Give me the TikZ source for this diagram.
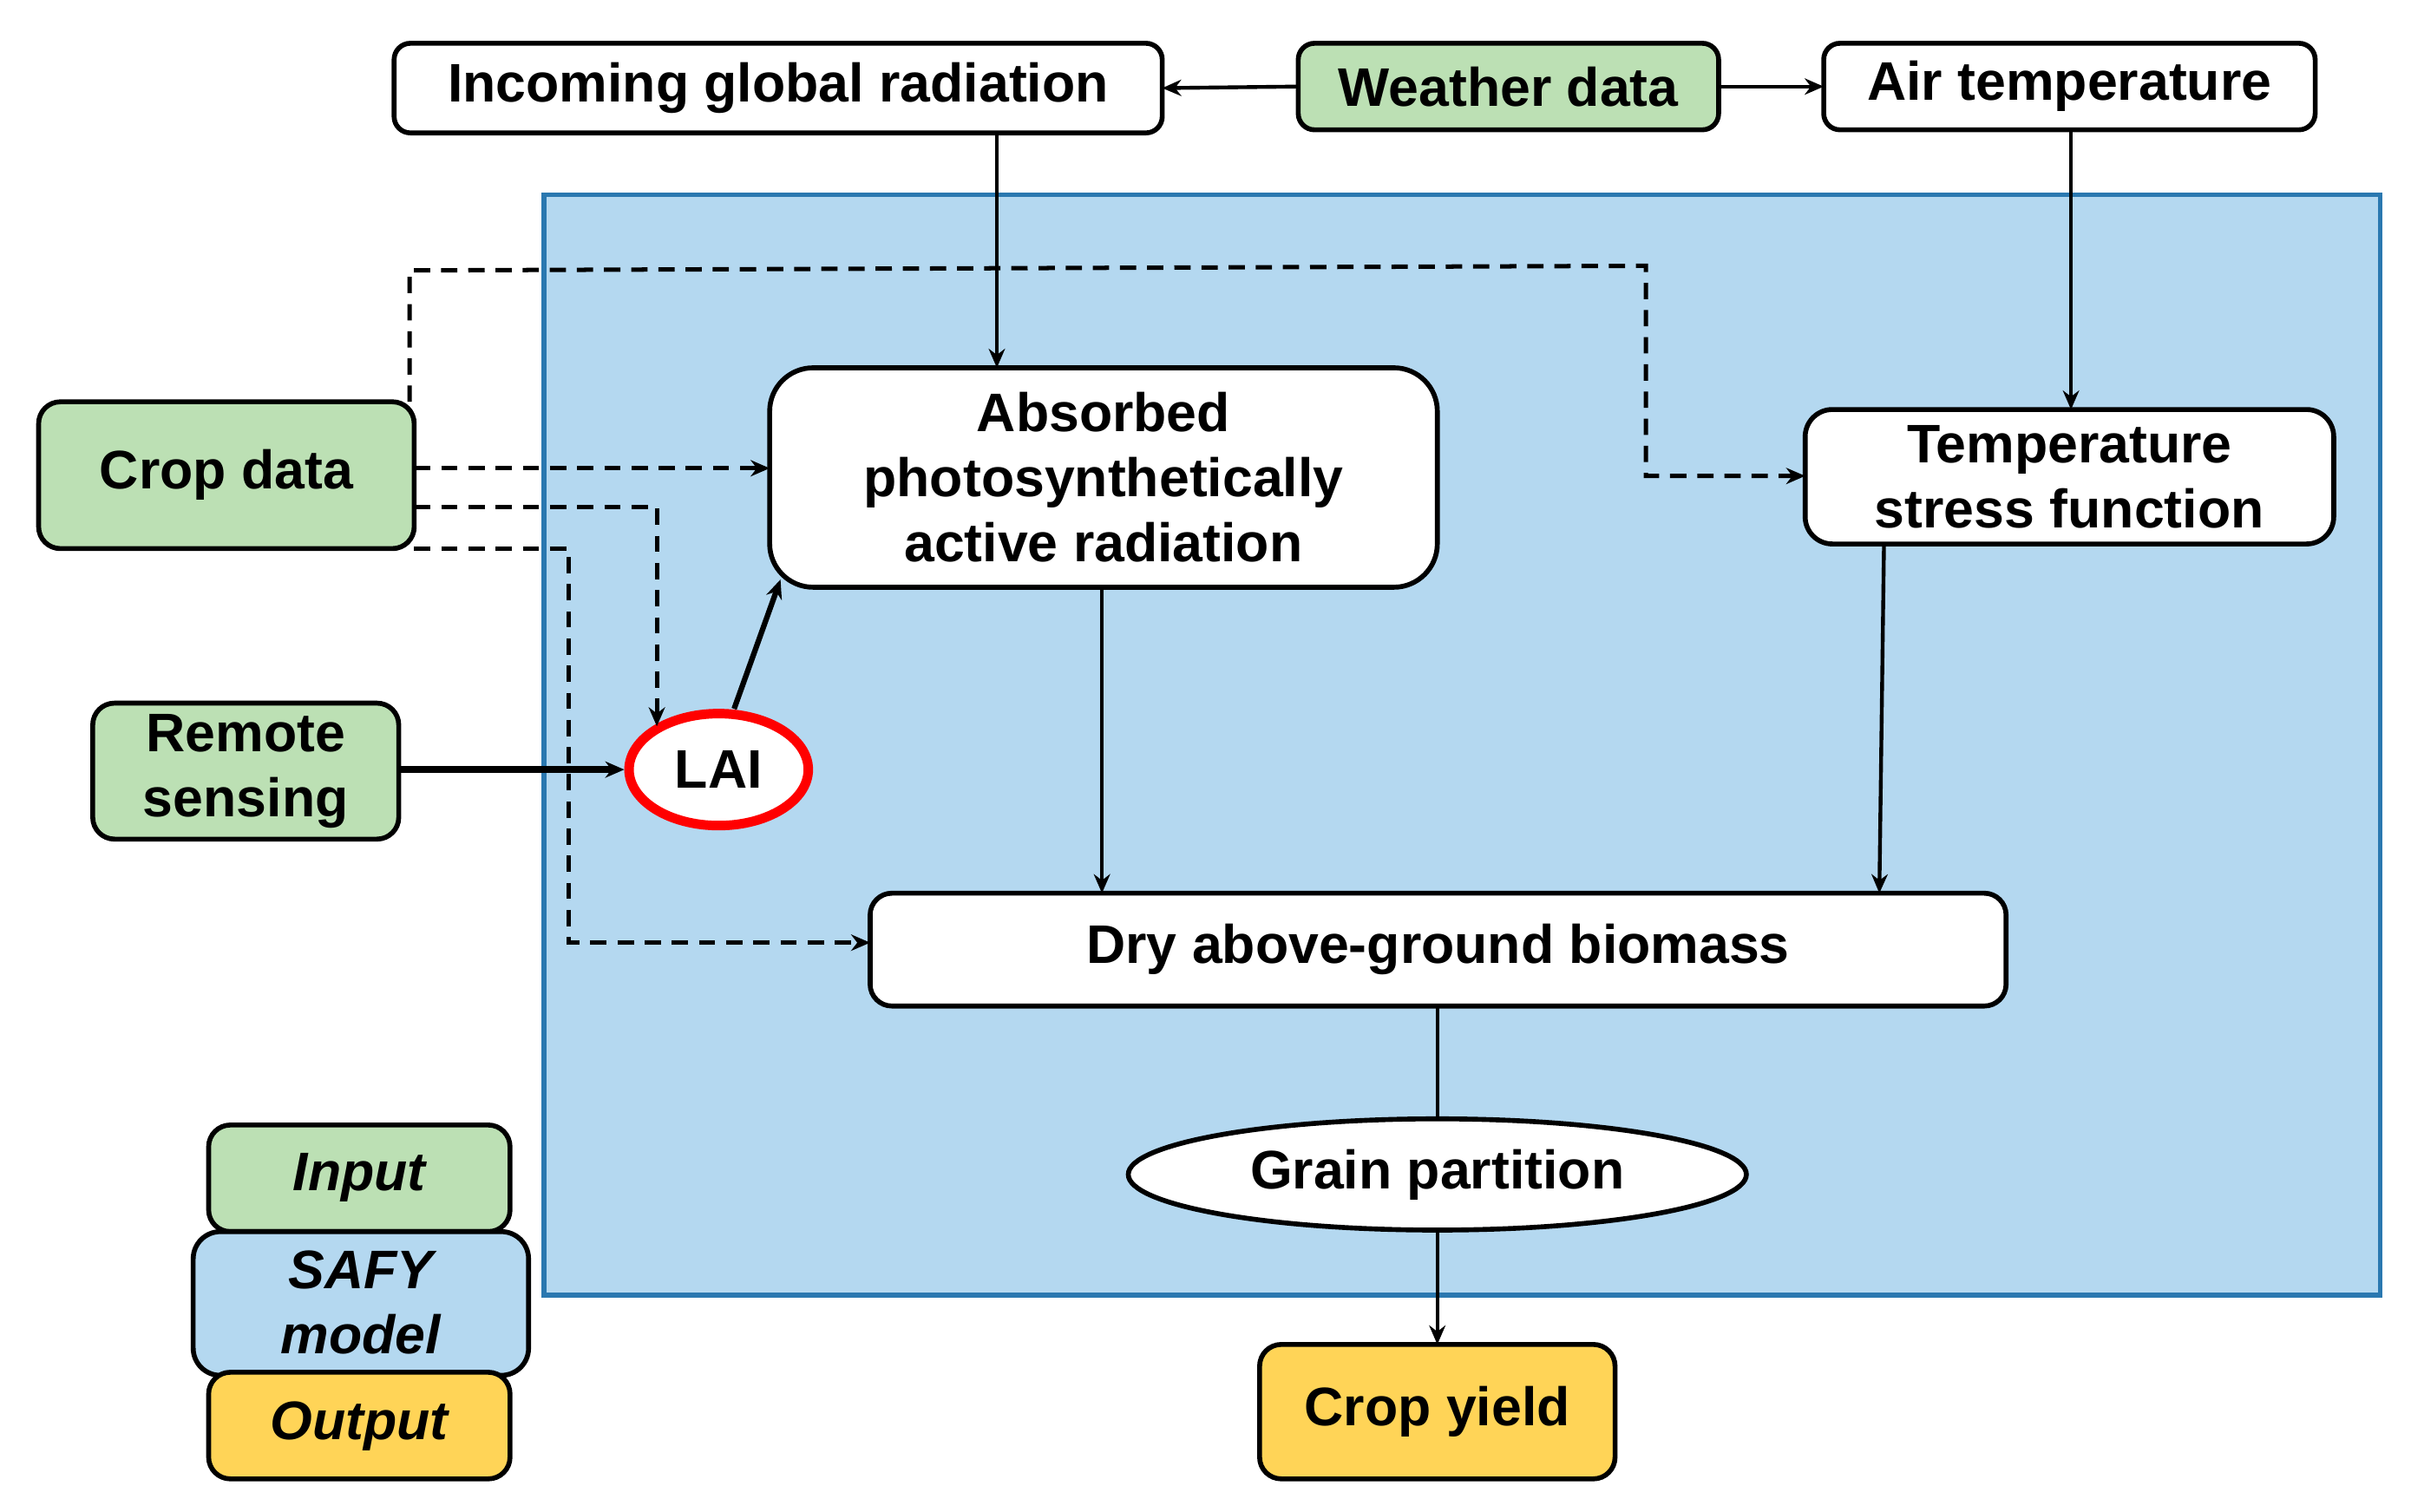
\documentclass[tikz,border=0pt]{standalone}
\usepackage{fontspec}
\setmainfont{Liberation Sans}
\usetikzlibrary{arrows.meta,shapes.geometric}
\definecolor{gfill}{HTML}{BCE0B4}
\definecolor{bfill}{HTML}{B4D8F0}
\definecolor{bline}{HTML}{2A78B0}
\definecolor{yfill}{HTML}{FFD457}
\begin{document}
\begin{tikzpicture}[x=0.02cm,y=-0.02cm,
  txt/.style={font=\fontsize{20}{24}\selectfont\bfseries,align=center},
  itx/.style={font=\fontsize{20}{24}\selectfont\bfseries\itshape,align=center},
  arr/.style={-{Stealth[length=7pt,width=6pt]},line width=1.4pt},
  darr/.style={arr,dash pattern=on 6pt off 4pt,line width=1.6pt}]
\useasboundingbox (0,0) rectangle (1560,978);
\fill[bfill] (352,126) rectangle (1540,838);
\draw[bline,line width=1.8pt] (352,126) rectangle (1540,838);
\draw[line width=1.8pt,rounded corners=6pt,fill=white] (255,28) rectangle (752,86);
\node[txt] (inc) at (503.5,57) {Incoming global radiation};
\draw[line width=1.8pt,rounded corners=6pt,fill=gfill] (840,28) rectangle (1112,84);
\node[txt] (wea) at (976,56) {Weather data};
\draw[line width=1.8pt,rounded corners=6pt,fill=white] (1180,28) rectangle (1498,84);
\node[txt] (air) at (1339,56) {Air temperature};
\draw[line width=1.8pt,rounded corners=8pt,fill=gfill] (25,260) rectangle (268,355);
\node[txt] (crop) at (146.5,307.5) {Crop data};
\draw[line width=1.8pt,rounded corners=16pt,fill=white] (498,238) rectangle (930,380);
\node[txt] (apar) at (714,309) {Absorbed\\photosynthetically\\active radiation};
\draw[line width=1.8pt,rounded corners=10pt,fill=white] (1168,265) rectangle (1510,352);
\node[txt] (tsf) at (1339,308.5) {Temperature\\stress function};
\draw[line width=1.8pt,rounded corners=8pt,fill=gfill] (60,455) rectangle (258,543);
\node[txt] (rs) at (159,499) {Remote\\sensing};
\node[ellipse,draw=red,line width=3.5pt,fill=white,txt,
  minimum width=2.32cm,minimum height=1.45cm,inner sep=0pt] (lai) at (465,498) {LAI};
\draw[line width=1.8pt,rounded corners=8pt,fill=white] (563,578) rectangle (1298,651);
\node[txt] (bio) at (930.5,614.5) {Dry above-ground biomass};
\node[ellipse,draw,line width=1.8pt,fill=white,txt,minimum width=8cm,minimum height=1.44cm,inner sep=0pt] (gp) at (930,760) {Grain partition};
\draw[line width=1.8pt,rounded corners=8pt,fill=yfill] (815,870) rectangle (1045,957);
\node[txt] (yield) at (930,913.5) {Crop yield};
\draw[line width=1.8pt,rounded corners=8pt,fill=gfill] (135,728) rectangle (330,797);
\node[itx] (lin) at (232.5,762) {Input};
\draw[line width=1.8pt,rounded corners=10pt,fill=bfill] (125,797) rectangle (342,890);
\node[itx] (lsafy) at (233.5,843) {SAFY\\model};
\draw[line width=1.8pt,rounded corners=8pt,fill=yfill] (135,888) rectangle (330,957);
\node[itx] (lout) at (232.5,923) {Output};
% connectors
\draw[arr] (840,56) -- (752,57);
\draw[arr] (1112,56) -- (1180,56);
\draw[arr] (645,86) -- (645,238);
\draw[arr] (1340,84) -- (1340,265);
\draw[darr] (265,260) -- (265,175) -- (1065,172) -- (1065,308) -- (1168,308);
\draw[darr] (268,303) -- (498,303);
\draw[darr] (268,328) -- (425,328) -- (425,470);
\draw[darr] (268,355) -- (368,355) -- (368,610) -- (563,610);
\draw[arr,line width=2pt] (lai.north) ++(10,0) -- (505,375);
\draw[arr,line width=2.4pt] (258,498) -- (lai.west);
\draw[arr] (713,380) -- (713,578);
\draw[arr] (1219,352) -- (1216,578);
\draw[line width=1.4pt] (930,651) -- (gp.north);
\draw[arr] (gp.south) -- (930,870);
\end{tikzpicture}
\end{document}
